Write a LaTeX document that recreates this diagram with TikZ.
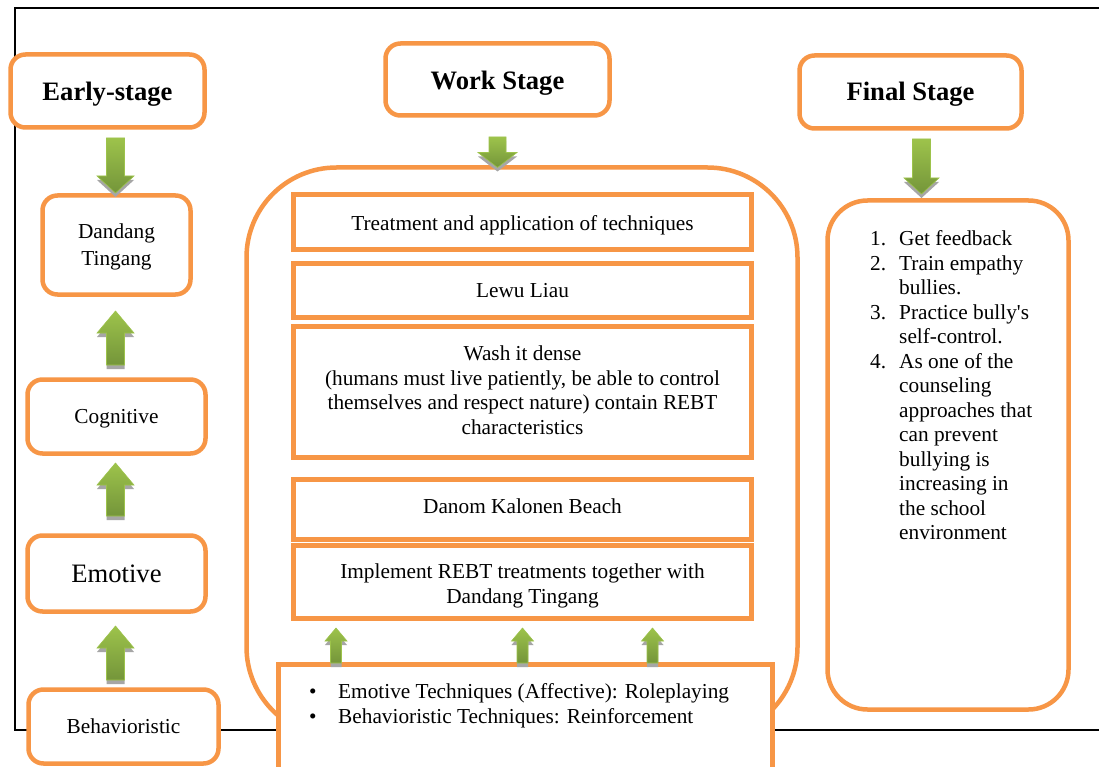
\documentclass[tikz,border=0pt]{standalone}
\usepackage{fontspec}
\setmainfont{Liberation Serif}
\usetikzlibrary{calc}
\definecolor{orng}{HTML}{F79646}
\definecolor{glight}{HTML}{9DC34B}
\definecolor{gdark}{HTML}{74953A}
\definecolor{gshadow}{HTML}{A6A6A6}
\newcommand\bodyfont{\fontsize{21.3}{24.5}\selectfont}
\newcommand\headfont{\fontsize{26.6}{30}\selectfont\bfseries}
\newcommand\bigfont{\fontsize{26.6}{30}\selectfont}
\newcommand\lnum[1]{\makebox[29pt][l]{#1}}
% block arrow: #1 tail, #2 tip, #3 shaft half width, #4 head half width, #5 head length
\newcommand\garrow[5]{%
  \fill[gshadow] let \p1=(#1), \p2=(#2), \n1={sign(\y1-\y2)*#5} in
    (\x1-#3,\y1-4pt) -- (\x1+#3,\y1-4pt) -- (\x1+#3,\y2+\n1-4pt) -- (\x1+#4,\y2+\n1-4pt)
    -- (\x1,\y2-4pt) -- (\x1-#4,\y2+\n1-4pt) -- (\x1-#3,\y2+\n1-4pt) -- cycle;
  \shade[top color=glight, bottom color=gdark, draw=glight, line width=0.6pt]
    let \p1=(#1), \p2=(#2), \n1={sign(\y1-\y2)*#5} in
    (\x1-#3,\y1) -- (\x1+#3,\y1) -- (\x1+#3,\y2+\n1) -- (\x1+#4,\y2+\n1)
    -- (\x1,\y2) -- (\x1-#4,\y2+\n1) -- (\x1-#3,\y2+\n1) -- cycle;
}
\tikzset{
  sbox/.style={draw=orng, line width=4.5pt, rounded corners=15pt, fill=white,
    inner sep=0pt, outer sep=0pt, align=center, font=\bodyfont},
  rbox/.style={draw=orng, line width=5pt, fill=white, inner sep=0pt, outer sep=0pt,
    minimum width=458pt, align=center, font=\bodyfont},
  txt/.style={inner sep=0pt, align=center, font=\bodyfont},
  firstline/.style={execute at begin node={\rule{0pt}{#1}}},
  frameline/.style={black, line width=1.5pt},
}
\begin{document}
\begin{tikzpicture}[x=1pt,y=-1pt]
\useasboundingbox (0,0) rectangle (1099,767);
\clip (0,0) rectangle (1099,767);
\fill[white] (0,0) rectangle (1099,767);
% frame
\draw[frameline] (1105,8) -- (15,8) -- (15,730) -- (1105,730);

% headings
\node[sbox, minimum width=194pt, minimum height=73pt, font=\headfont, firstline=24.2pt] (early) at (107.5,91) {Early-stage};
\node[sbox, minimum width=224pt, minimum height=72pt, font=\headfont, firstline=26.2pt] (work) at (497.5,79.5) {Work Stage};
\node[sbox, minimum width=222pt, minimum height=73pt, font=\headfont, firstline=22.2pt] (final) at (910.5,92) {Final Stage};

% left column
\node[sbox, minimum width=148pt, minimum height=99pt] (dt) at (116.5,245) {};
\node[txt, font=\fontsize{21.3}{27}\selectfont, yshift=-2pt] (dttext) at (dt.center) {Dandang\\Tingang};
\node[sbox, minimum width=178pt, minimum height=74pt, firstline=18pt] (cog) at (116.5,416.5) {Cognitive};
\node[sbox, minimum width=178pt, minimum height=76pt, font=\bigfont] (emo) at (116.5,573.5) {Emotive};
\node[sbox, minimum width=190pt, minimum height=74pt] (beh) at (123.5,726.5) {Behavioristic};

% work stage container
\node[draw=orng, line width=4.5pt, rounded corners=90pt, fill=white, inner sep=0pt, outer sep=0pt,
  minimum width=551pt, minimum height=569.5pt] (big) at (522,452.25) {};
\node[rbox, minimum height=55pt, firstline=21pt] (t1) at (522.5,222) {Treatment and application of techniques};
\node[rbox, minimum height=54pt] (t2) at (522.5,290.5) {Lewu Liau};
\node[rbox, minimum height=131pt] (t3) at (522.5,392) {};
\node[txt, yshift=2pt] (t3text) at (t3.center) {Wash it dense\\(humans must live patiently, be able to control\\themselves and respect nature) contain REBT\\characteristics};
\node[rbox, minimum height=60pt] (t4) at (522.5,509.5) {};
\node[txt, yshift=3pt] (t4text) at (t4.center) {Danom Kalonen Beach};
\node[rbox, minimum height=73pt] (t5) at (522.5,582) {};
\node[txt, yshift=-4pt] (t5text) at (t5.center) {Implement REBT treatments together with\\Dandang Tingang};
\node[draw=orng, line width=5pt, fill=white, inner sep=0pt, outer sep=0pt,
  minimum width=494pt, minimum height=140pt] (bul) at (525.5,734.5) {};
\node[anchor=north west, inner sep=0pt, align=left, font=\bodyfont] (blist) at (309,683.3)
  {\lnum{\textbullet}Emotive Techniques (Affective): Roleplaying\\
   \lnum{\textbullet}Behavioristic Techniques: Reinforcement};

% final stage container
\node[sbox, rounded corners=40pt, minimum width=241pt, minimum height=509pt] (fin) at (948,455) {};
\node[anchor=north west, inner sep=0pt, align=left, font=\bodyfont] (flist) at (870,230.5)
  {\lnum{1.}Get feedback\\
   \lnum{2.}Train empathy\\
   \lnum{}bullies.\\
   \lnum{3.}Practice bully\textquotesingle s\\
   \lnum{}self-control.\\
   \lnum{4.}As one of the\\
   \lnum{}counseling\\
   \lnum{}approaches that\\
   \lnum{}can prevent\\
   \lnum{}bullying is\\
   \lnum{}increasing in\\
   \lnum{}the school\\
   \lnum{}environment};

% arrows
\garrow{$(dt.north |- early.south)+(-1,10.5)$}{$(dt.north)+(-1,-2.5)$}{9pt}{18.5pt}{17}
\garrow{$(dt.south |- cog.north)+(-1,-14.5)$}{$(dt.south)+(-1,16.5)$}{9pt}{18.5pt}{22}
\garrow{$(cog.south |- emo.north)+(-1,-19.5)$}{$(cog.south)+(-1,9.5)$}{9pt}{18.5pt}{22}
\garrow{$(beh.north)+(-8,-9.5)$}{$(emo.south)+(-1,14.5)$}{9pt}{18.5pt}{22}
\garrow{$(work.south)+(0,21.5)$}{$(big.north)+(-25,0)$}{8.5pt}{19.5pt}{15}
\garrow{$(final.south)+(11,10.5)$}{$(fin.north)+(-26,-6.5)$}{9pt}{17.5pt}{16}
\garrow{$(bul.north)+(-189.5,-1.5)$}{$(t5.south)+(-186.5,9.5)$}{5.5pt}{11pt}{13}
\garrow{$(bul.north)+(-3,-1.5)$}{$(t5.south)+(0,9.5)$}{5.5pt}{11pt}{13}
\garrow{$(bul.north)+(127,-1.5)$}{$(t5.south)+(130,9.5)$}{5.5pt}{11pt}{13}
\end{tikzpicture}
\end{document}
